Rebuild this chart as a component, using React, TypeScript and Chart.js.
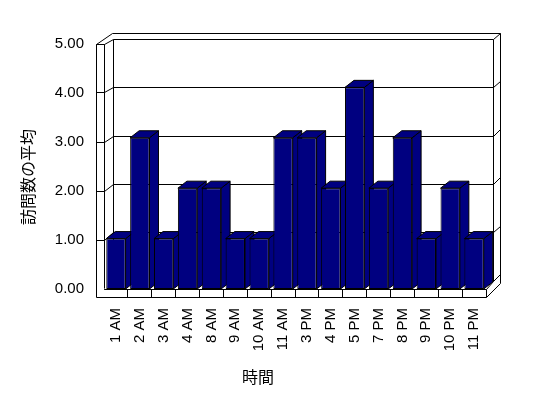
import React, { useEffect, useRef } from "react";
import { Chart, registerables } from "chart.js";

Chart.register(...registerables);

// ---- data ----
const categories = [
  "1 AM", "2 AM", "3 AM", "4 AM", "8 AM", "9 AM", "10 AM", "11 AM",
  "3 PM", "4 PM", "5 PM", "7 PM", "8 PM", "9 PM", "10 PM", "11 PM",
];
const averageVisits = [1, 3, 1, 2, 2, 1, 1, 3, 3, 2, 4, 2, 3, 1, 2, 1];
const yTickMin = 0;
const yTickMax = 5;
const yTickStep = 1;
const yAxisTitle = "訪問数の平均";
const xAxisTitle = "時間";

// ---- style ----
const NAVY = "#000080";
const LINE = "#000000";
const TICK_FONT = { family: "'Liberation Sans', Arial, sans-serif", size: 15 };
const TITLE_FONT = "16px 'Noto Sans CJK JP', sans-serif";

const snap = (v: number) => Math.floor(v) + 0.5;

function line(ctx: CanvasRenderingContext2D, x1: number, y1: number, x2: number, y2: number) {
  ctx.beginPath();
  ctx.moveTo(snap(x1), snap(y1));
  ctx.lineTo(snap(x2), snap(y2));
  ctx.stroke();
}

function poly(ctx: CanvasRenderingContext2D, pts: number[][], fill: string) {
  ctx.beginPath();
  ctx.moveTo(pts[0][0], pts[0][1]);
  for (let i = 1; i < pts.length; i++) ctx.lineTo(pts[i][0], pts[i][1]);
  ctx.closePath();
  ctx.fillStyle = fill;
  ctx.fill();
  ctx.stroke();
}

const frame3d = {
  id: "frame3d",
  beforeDatasetsDraw(chart: any) {
    const { ctx, chartArea: ca, scales } = chart;
    const L = ca.left, R = ca.right, T = ca.top, B = ca.bottom;
    const WALL = 7.5;
    const FLOOR = 8.5;
    const bL = L + 9.5, bR = R + 7.5, bT = T - 4.5, bB = B - 8;
    const tbx = 6.5, tby = -6.5;
    const backY = (fy: number) => bT + ((fy - T) * (bB - bT)) / (B - T);

    ctx.save();
    ctx.strokeStyle = LINE;
    ctx.lineWidth = 1;

    // back wall face
    ctx.fillStyle = "#fff";
    ctx.fillRect(bL, bT, bR - bL, bB - bT);

    // outer frame (left wall top, back wall top / right thickness)
    line(ctx, L - WALL, T, L, T);
    line(ctx, L - WALL, T, L - WALL + 9.5 + tbx, bT + tby);
    line(ctx, L - WALL + 9.5 + tbx, bT + tby, bR + tbx, bT + tby);
    line(ctx, bR + tbx, bT + tby, bR + tbx, bB + FLOOR + tby);
    line(ctx, bR, bT, bR + tbx, bT + tby);
    line(ctx, bR, bT, bR, bB);
    line(ctx, bL, bT, bL, bB);
    // left wall
    line(ctx, L - WALL, T, L - WALL, B + FLOOR);
    line(ctx, L, T, L, B);

    // gridlines
    const y2 = scales.y2;
    for (let v = yTickMin; v <= yTickMax; v += yTickStep) {
      const fy = y2.getPixelForValue(v);
      const by = backY(fy);
      if (v !== yTickMin) line(ctx, L - WALL, fy, L, fy);
      line(ctx, L, fy, bL, by);
      line(ctx, bL, by, bR, by);
      if (v !== yTickMax) line(ctx, bR, by, bR + tbx, by + tby);
    }

    // floor top
    ctx.fillStyle = "#fff";
    ctx.beginPath();
    ctx.moveTo(L, B);
    ctx.lineTo(R, B);
    ctx.lineTo(bR, bB);
    ctx.lineTo(bL, bB);
    ctx.closePath();
    ctx.fill();
    line(ctx, L, B, R, B);
    line(ctx, R, B, bR, bB);
    // floor front
    line(ctx, L - WALL, B + FLOOR, R, B + FLOOR);
    line(ctx, R, B, R, B + FLOOR);
    line(ctx, R, B + FLOOR, bR + tbx, bB + FLOOR + tby);
    const xs = scales.x;
    for (let i = 1; i < categories.length; i++) {
      const bx = (xs.getPixelForValue(i - 1) + xs.getPixelForValue(i)) / 2;
      line(ctx, bx, B, bx, B + FLOOR);
    }

    // bar side & top faces
    const dx = 9, dy = -7;
    const meta = chart.getDatasetMeta(0);
    meta.data.forEach((el: any) => {
      const { x, y, base, width } = el.getProps(["x", "y", "base", "width"], true);
      const x1 = x - width / 2;
      const x2 = x + width / 2;
      poly(ctx, [[x2, y], [x2 + dx, y + dy], [x2 + dx, base + dy], [x2, base]], NAVY);
      poly(ctx, [[x1, y], [x2, y], [x2 + dx, y + dy], [x1 + dx, y + dy]], NAVY);
    });
    ctx.restore();
  },
  afterDraw(chart: any) {
    const { ctx } = chart;
    ctx.save();
    ctx.fillStyle = "#000";
    ctx.font = TITLE_FONT;
    ctx.textAlign = "center";
    ctx.textBaseline = "middle";
    ctx.fillText(xAxisTitle, 258, 377);
    ctx.translate(28, 177);
    ctx.rotate(-Math.PI / 2);
    ctx.fillText(yAxisTitle, 0, 0);
    ctx.restore();
  },
};

export default function App() {
  const ref = useRef<HTMLCanvasElement>(null);
  useEffect(() => {
    document.body.style.margin = "0";
    const chart = new Chart(ref.current as HTMLCanvasElement, {
      type: "bar",
      data: {
        labels: categories,
        datasets: [
          {
            data: averageVisits,
            backgroundColor: NAVY,
            borderColor: LINE,
            borderWidth: 1,
            borderSkipped: false,
            barPercentage: 0.81,
            categoryPercentage: 1,
            xAxisID: "x",
            yAxisID: "y",
          },
        ],
      },
      options: {
        responsive: false,
        animation: false,
        devicePixelRatio: 1,
        layout: { padding: { top: 44, right: 62, left: 0, bottom: 0 } },
        plugins: { legend: { display: false }, tooltip: { enabled: false } },
        scales: {
          x: {
            grid: { display: false, drawTicks: false },
            border: { display: false },
            ticks: {
              autoSkip: false,
              maxRotation: 90,
              minRotation: 90,
              padding: 19,
              color: "#000",
              font: TICK_FONT,
            },
            afterFit: (s: any) => {
              s.height = 109;
            },
          },
          y: { display: false, min: 0, max: 4.86 },
          y2: {
            position: "left",
            min: yTickMin,
            max: yTickMax,
            grid: { display: false, drawTicks: false },
            border: { display: false },
            ticks: {
              stepSize: yTickStep,
              padding: 20,
              color: "#000",
              font: TICK_FONT,
              callback: (v: any) => Number(v).toFixed(2),
            },
            afterFit: (s: any) => {
              s.width = 104;
            },
          },
        },
      } as any,
      plugins: [frame3d],
    });
    return () => chart.destroy();
  }, []);
  return <canvas ref={ref} width={548} height={398} style={{ display: "block" }} />;
}
